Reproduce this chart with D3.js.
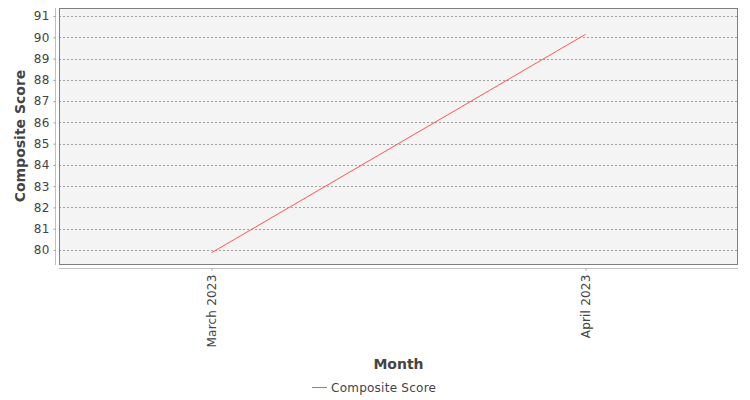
<!DOCTYPE html>
<html>
<head>
<meta charset="utf-8">
<script src="https://cdn.jsdelivr.net/npm/d3@7"></script>
<style>
  body { margin: 0; background: #fff; }
  text { font-family: "DejaVu Sans", sans-serif; fill: #444; }
</style>
</head>
<body>
<script>
// data
const months = ["March 2023", "April 2023"];
const composite_scores = [79.87, 90.14];
const y_ticks = [80, 81, 82, 83, 84, 85, 86, 87, 88, 89, 90, 91];
const series_name = "Composite Score";

// setup
const WIDTH = 750, HEIGHT = 400;
const plot = {left: 59, top: 8, right: 738, bottom: 264};
const LINE_COLOR = "#ff5555";

const svg = d3.select("body").append("svg")
    .attr("width", WIDTH)
    .attr("height", HEIGHT);

const x = d3.scalePoint()
    .domain(months)
    .range([plot.left, plot.right])
    .padding(0.408);

const y = d3.scaleLinear()
    .domain([79.34, 91.38])
    .range([plot.bottom, plot.top]);

// plot background
svg.append("rect")
    .attr("x", plot.left)
    .attr("y", plot.top)
    .attr("width", plot.right - plot.left)
    .attr("height", plot.bottom - plot.top)
    .attr("fill", "#f4f4f4");

// grid lines
svg.append("g")
    .selectAll("line")
    .data(y_ticks)
    .join("line")
    .attr("x1", plot.left)
    .attr("x2", plot.right)
    .attr("y1", d => Math.round(y(d)) + 0.5)
    .attr("y2", d => Math.round(y(d)) + 0.5)
    .attr("stroke", "#8a8a8a")
    .attr("stroke-width", 0.8)
    .attr("stroke-dasharray", "2,2");

// plot border
svg.append("rect")
    .attr("x", plot.left + 0.5)
    .attr("y", plot.top + 0.5)
    .attr("width", plot.right - plot.left - 1)
    .attr("height", plot.bottom - plot.top)
    .attr("fill", "none")
    .attr("stroke", "#808080");

// y axis
const y_axis = svg.append("g")
    .attr("transform", "translate(55.5,0)")
    .call(d3.axisLeft(y).tickValues(y_ticks).tickSize(2).tickPadding(4).tickFormat(d3.format("d")));
y_axis.select(".domain")
    .attr("d", `M0,${plot.top}V${plot.bottom + 1}`)
    .attr("stroke", "#c0c0c0");
y_axis.selectAll(".tick line").attr("stroke", "#999");
y_axis.selectAll(".tick text")
    .style("font-family", "DejaVu Sans, sans-serif")
    .style("font-size", "12px")
    .style("letter-spacing", "0.2px")
    .attr("fill", "#444");

// x axis
const x_axis = svg.append("g")
    .attr("transform", "translate(0,268.5)")
    .call(d3.axisBottom(x).tickSize(2).tickPadding(4));
x_axis.select(".domain")
    .attr("d", `M${plot.left},0H${plot.right}`)
    .attr("stroke", "#c0c0c0");
x_axis.selectAll(".tick line").attr("stroke", "#999");
x_axis.selectAll(".tick text")
    .style("font-family", "DejaVu Sans, sans-serif")
    .style("font-size", "12px")
    .style("letter-spacing", "0.2px")
    .attr("fill", "#444")
    .attr("transform", "rotate(-90)")
    .attr("text-anchor", "end")
    .attr("x", -6)
    .attr("y", 0)
    .attr("dy", "0.35em");

// axis labels
svg.append("text")
    .attr("transform", "translate(25," + ((plot.top + plot.bottom) / 2) + ") rotate(-90)")
    .attr("text-anchor", "middle")
    .style("font-size", "14px")
    .style("font-weight", "bold")
    .text("Composite Score");

svg.append("text")
    .attr("x", (plot.left + plot.right) / 2)
    .attr("y", 369)
    .attr("text-anchor", "middle")
    .style("font-size", "14px")
    .style("font-weight", "bold")
    .text("Month");

// series line
const line = d3.line()
    .x((d, i) => x(months[i]))
    .y(d => y(d));

svg.append("path")
    .datum(composite_scores)
    .attr("d", line)
    .attr("fill", "none")
    .attr("stroke", LINE_COLOR)
    .attr("stroke-width", 1);

// legend
const legend = svg.append("g").attr("transform", "translate(312,387.5)");
legend.append("line")
    .attr("x1", 0).attr("x2", 15)
    .attr("stroke", LINE_COLOR);
legend.append("text")
    .attr("x", 19)
    .attr("dy", "0.35em")
    .style("font-size", "12px")
    .style("letter-spacing", "0.25px")
    .text(series_name);
</script>
</body>
</html>
